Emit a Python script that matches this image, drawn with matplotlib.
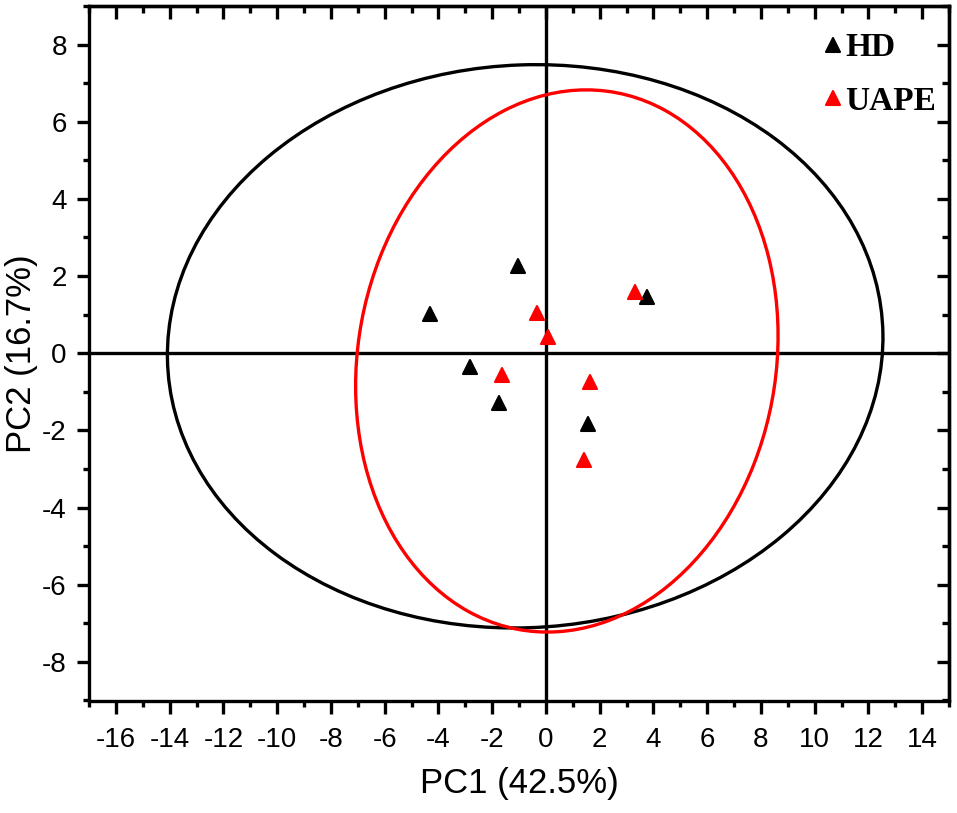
import numpy as np
import matplotlib
matplotlib.use("Agg")
import matplotlib.pyplot as plt
from matplotlib.patches import Ellipse
from matplotlib.markers import MarkerStyle
from matplotlib.ticker import MultipleLocator

# ---- data ----
hd_pc1 = [-1.02, -4.30, 3.77, -2.82, -1.74, 1.55]
hd_pc2 = [2.27, 1.02, 1.47, -0.36, -1.29, -1.83]
uape_pc1 = [3.30, -0.34, 0.07, -1.64, 1.64, 1.43]
uape_pc2 = [1.59, 1.04, 0.42, -0.56, -0.74, -2.76]

# confidence ellipses: center, full width, full height, angle (deg)
hd_ell = dict(center=(-0.77, 0.18), width=26.63, height=14.59, angle=1.4)
uape_ell = dict(center=(0.78, -0.20), width=15.95, height=13.79, angle=19.7)

series_labels = ["HD", "UAPE"]
colors = ["#000000", "#FF0000"]
xlabel = "PC1 (42.5%)"
ylabel = "PC2 (16.7%)"
xlim = (-17, 15)
ylim = (-9, 9)
xticks = list(range(-16, 15, 2))
yticks = list(range(-8, 9, 2))

plt.rcParams['font.family'] = ['Liberation Sans', 'DejaVu Sans']
plt.rcParams['axes.unicode_minus'] = False

fig = plt.figure(figsize=(9.57, 8.13), dpi=100)
ax = fig.add_axes([89/957, 1-700.5/813, 860/957, 694.5/813])

lw = 2.4
ax.axhline(0, color="black", lw=lw, zorder=1)
ax.axvline(0, color="black", lw=lw, zorder=1)

for ell, c in zip([hd_ell, uape_ell], colors):
    e = Ellipse(xy=ell["center"], width=ell["width"], height=ell["height"],
                angle=ell["angle"], fill=False, edgecolor=c, lw=lw, zorder=2)
    ax.add_patch(e)

mk = MarkerStyle("^", joinstyle="round")
ax.plot(hd_pc1, hd_pc2, ls="none", marker=mk, ms=9.5, color=colors[0],
        mec=colors[0], mew=1.5, label=series_labels[0], zorder=3)
ax.plot(uape_pc1, uape_pc2, ls="none", marker=mk, ms=9.5, color=colors[1],
        mec=colors[1], mew=1.5, label=series_labels[1], zorder=3)

ax.set_xlim(*xlim)
ax.set_ylim(*ylim)
ax.set_xticks(xticks)
ax.set_yticks(yticks)
ax.xaxis.set_minor_locator(MultipleLocator(1))
ax.yaxis.set_minor_locator(MultipleLocator(1))

for s in ax.spines.values():
    s.set_linewidth(lw)

ax.tick_params(which="major", direction="out", length=9, width=lw,
               labelsize=20, pad=7)
ax.tick_params(axis="x", which="major", pad=10)
ax.tick_params(which="minor", direction="out", length=4.5, width=lw)

# inward ticks on top/right
secx = ax.secondary_xaxis("top")
secx.set_xticks(xticks)
secx.xaxis.set_minor_locator(MultipleLocator(1))
secx.tick_params(which="major", direction="in", length=9, width=lw, labeltop=False)
secx.tick_params(which="minor", direction="in", length=5, width=lw)
secx.spines["top"].set_linewidth(lw)
secy = ax.secondary_yaxis("right")
secy.set_yticks(yticks)
secy.yaxis.set_minor_locator(MultipleLocator(1))
secy.tick_params(which="major", direction="in", length=9, width=lw, labelright=False)
secy.tick_params(which="minor", direction="in", length=5, width=lw)
secy.spines["right"].set_linewidth(lw)

ax.set_xlabel(xlabel, fontsize=25, labelpad=10)
ax.set_ylabel(ylabel, fontsize=25, labelpad=3)

leg = ax.legend(loc="upper left", bbox_to_anchor=(0.8555, 0.962), frameon=False,
                prop={"family": ["Liberation Serif"], "weight": "bold", "size": 24},
                handlelength=0.5, handletextpad=0.12, borderpad=0, labelspacing=0.68,
                borderaxespad=0)

fig.savefig("out.png", dpi=100)
